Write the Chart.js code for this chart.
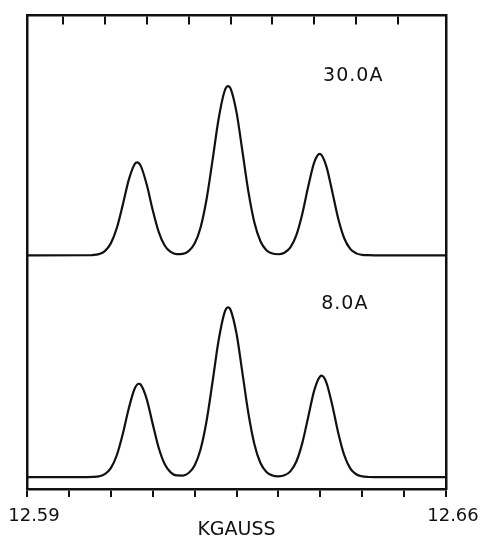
<!DOCTYPE html>
<html>
<head>
<meta charset="utf-8">
<script src="https://cdn.jsdelivr.net/npm/chart.js@4/dist/chart.umd.min.js"></script>
<style>
    html, body { margin: 0; padding: 0; background: #fff; }
    canvas { display: block; }
</style>
</head>
<body>
<canvas id="spectrum" width="483" height="537"></canvas>
<script>
// Field positions (kG) and signal (arbitrary units) for the 30.0 A trace.
var upperField = [12.590, 12.600, 12.601, 12.602, 12.603, 12.604, 12.605, 12.606, 12.607, 12.608, 12.6084,
    12.609, 12.610, 12.611, 12.612, 12.613, 12.614, 12.615, 12.616, 12.617, 12.618, 12.619, 12.620, 12.621,
    12.622, 12.623, 12.6236, 12.624, 12.625, 12.626, 12.627, 12.628, 12.629, 12.630, 12.631, 12.632, 12.633,
    12.634, 12.635, 12.636, 12.637, 12.638, 12.6389, 12.639, 12.640, 12.641, 12.642, 12.643, 12.644, 12.645,
    12.646, 12.647, 12.648, 12.660];
var upperSignal = [49.30, 49.31, 49.36, 49.56, 50.19, 51.82, 55.06, 59.94, 65.22, 68.57, 68.90,
    68.17, 64.24, 58.87, 54.26, 51.38, 50.02, 49.56, 49.60, 50.17, 51.77, 55.18, 61.13, 69.37,
    78.00, 83.92, 85.00, 84.52, 79.50, 71.15, 62.63, 56.16, 52.27, 50.39, 49.67, 49.53, 49.85,
    50.98, 53.57, 58.08, 63.90, 68.94, 70.70, 70.68, 68.13, 62.71, 57.03, 52.90, 50.66, 49.71,
    49.40, 49.32, 49.30, 49.30];

// Field positions (kG) and signal for the 8.0 A trace.
var lowerField = [12.590, 12.600, 12.601, 12.602, 12.603, 12.604, 12.605, 12.606, 12.607, 12.608, 12.6087,
    12.609, 12.610, 12.611, 12.612, 12.613, 12.614, 12.615, 12.616, 12.617, 12.618, 12.619, 12.620, 12.621,
    12.622, 12.623, 12.6236, 12.624, 12.625, 12.626, 12.627, 12.628, 12.629, 12.630, 12.631, 12.632, 12.633,
    12.634, 12.635, 12.636, 12.637, 12.638, 12.639, 12.6392, 12.640, 12.641, 12.642, 12.643, 12.644, 12.645,
    12.646, 12.647, 12.648, 12.660];
var lowerSignal = [2.50, 2.51, 2.54, 2.67, 3.13, 4.40, 7.12, 11.60, 17.00, 21.20, 22.20,
    22.01, 18.97, 13.74, 8.71, 5.28, 3.51, 2.86, 2.83, 3.38, 4.97, 8.40, 14.36, 22.62,
    31.28, 37.22, 38.30, 37.82, 32.79, 24.41, 15.87, 9.38, 5.48, 3.59, 2.86, 2.68, 2.88,
    3.72, 5.80, 9.73, 15.31, 20.87, 23.81, 23.90, 22.50, 17.68, 11.82, 7.13, 4.36, 3.11,
    2.66, 2.53, 2.50, 2.50];

// Axis ticks.
var bottomTicks = [12.590, 12.597, 12.604, 12.611, 12.618, 12.625, 12.632, 12.639, 12.646, 12.653, 12.660];
var topTicks = [12.596, 12.603, 12.610, 12.617, 12.624, 12.631, 12.638, 12.645, 12.652];

// Trace labels.
var traceLabels = ['30.0A', '8.0A'];
var traceLabelField = [12.6445, 12.6431];
var traceLabelSignal = [87.2, 39.0];

var INK = '#111';
var FONT = '"DejaVu Sans", sans-serif';

function toPoints(xs, ys) {
    return xs.map(function(x, i) {
        return {x: x, y: ys[i]};
    });
}

function setTicks(values) {
    return function(scale) {
        scale.ticks = values.map(function(v) {
            return {value: v};
        });
    };
}

/**
 * Writes the current labels beside each trace.
 */
var traceLabelPlugin = {
    id: 'traceLabels',
    afterDatasetsDraw: function(chart) {
        var ctx = chart.ctx;
        var x = chart.scales.x;
        var y = chart.scales.y;
        ctx.save();
        ctx.font = '19px ' + FONT;
        ctx.fillStyle = INK;
        ctx.textAlign = 'center';
        ctx.textBaseline = 'middle';
        ctx.letterSpacing = '1px';
        traceLabels.forEach(function(label, i) {
            ctx.fillText(label, x.getPixelForValue(traceLabelField[i]), y.getPixelForValue(traceLabelSignal[i]));
        });
        ctx.restore();
    }
};

var frameAxis = {
    display: true,
    min: 0,
    max: 100,
    ticks: {display: false},
    grid: {display: true, drawOnChartArea: false, drawTicks: false},
    border: {display: true, color: INK, width: 2.5}
};

new Chart(document.getElementById('spectrum'), {
    type: 'line',
    data: {
        datasets: [{
            data: toPoints(upperField, upperSignal)
        }, {
            data: toPoints(lowerField, lowerSignal)
        }]
    },
    options: {
        responsive: false,
        animation: false,
        devicePixelRatio: 1,
        layout: {padding: {left: 27, right: 37, top: 15, bottom: 0}},
        elements: {
            line: {borderColor: INK, borderWidth: 2.2, cubicInterpolationMode: 'monotone', fill: false},
            point: {radius: 0}
        },
        scales: {
            x: {
                type: 'linear',
                min: 12.59,
                max: 12.66,
                afterBuildTicks: setTicks(bottomTicks),
                // The end labels hang into the page margin; keep them from shrinking the plot.
                afterFit: function(scale) {
                    scale.paddingLeft = 0;
                    scale.paddingRight = 0;
                },
                ticks: {
                    autoSkip: false,
                    maxRotation: 0,
                    padding: 8.5,
                    labelOffset: 7,
                    color: INK,
                    font: {family: FONT, size: 18},
                    callback: function(value, index, ticks) {
                        return (index === 0 || index === ticks.length - 1) ? value.toFixed(2) : '';
                    }
                },
                grid: {drawOnChartArea: false, drawTicks: true, tickLength: 8, color: INK, lineWidth: 2},
                border: {display: true, color: INK, width: 2.5},
                title: {
                    display: true,
                    text: 'KGAUSS',
                    color: INK,
                    font: {family: FONT, size: 19},
                    padding: {top: -17.4, bottom: -4}
                }
            },
            x2: {
                type: 'linear',
                axis: 'x',
                position: {y: 100},
                min: 12.59,
                max: 12.66,
                afterBuildTicks: setTicks(topTicks),
                ticks: {display: false},
                grid: {drawOnChartArea: false, drawTicks: true, tickLength: 8, color: INK, lineWidth: 2},
                border: {display: true, color: INK, width: 2.5}
            },
            y: Object.assign({position: 'left'}, frameAxis),
            y2: Object.assign({position: 'right'}, frameAxis)
        },
        plugins: {
            legend: {display: false},
            tooltip: {enabled: false}
        }
    },
    plugins: [traceLabelPlugin]
});
</script>
</body>
</html>
